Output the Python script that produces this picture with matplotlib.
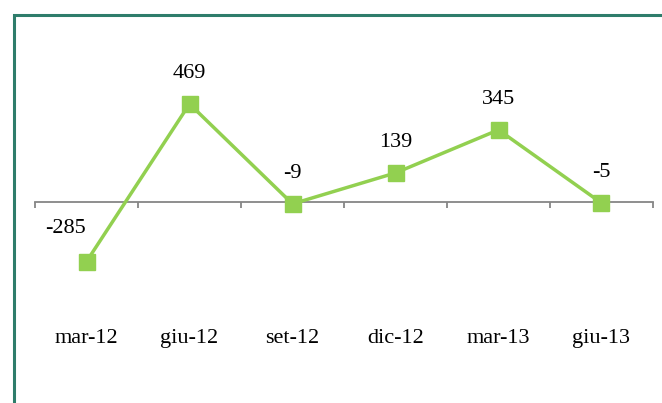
import numpy as np
import matplotlib.pyplot as plt
from matplotlib.patches import Rectangle
import matplotlib.transforms as mtransforms

plt.rcParams['font.family'] = ['Liberation Serif', 'DejaVu Serif']

# data
periods = ['mar-12', 'giu-12', 'set-12', 'dic-12', 'mar-13', 'giu-13']
values = [-285, 469, -9, 139, 345, -5]

green = '#92D050'
x = np.arange(len(periods))

fig = plt.figure(figsize=(6.62, 4.03), dpi=100)
ax = fig.add_axes([0.0529, 0.2395, 0.9335, 0.5705])

ax.plot(x, values, color=green, lw=2.5, marker='s', markersize=11,
        markerfacecolor=green, markeredgecolor=green, zorder=3, clip_on=False)

ax.set_xlim(-0.5, len(periods) - 0.5)
ax.set_ylim(-500, 600)

# axis line at zero with tick marks between categories
for s in ['top', 'right', 'left']:
    ax.spines[s].set_visible(False)
ax.spines['bottom'].set_position(('data', 0))
ax.spines['bottom'].set_color('#868686')
ax.spines['bottom'].set_linewidth(1.3)
ax.set_yticks([])
ax.set_xticks([])
ax.set_xticks(np.arange(len(periods) + 1) - 0.5, minor=True)
ax.tick_params(axis='x', which='minor', direction='out', length=4,
               width=1.3, color='#868686', labelbottom=False)

# value labels
offsets = [(-15, 24), (0, 22), (0, 22), (0, 22), (0, 22), (0, 22)]
for xi, v, off in zip(x, values, offsets):
    ax.annotate(str(v), (xi, v), xytext=off, textcoords='offset points',
                ha='center', va='center', fontsize=16)

# category labels at the bottom
trans = mtransforms.blended_transform_factory(ax.transData, ax.transAxes)
for xi, lab in zip(x, periods):
    ax.text(xi, -0.14, lab, transform=trans, ha='center', va='center',
            fontsize=16)

# outer border
fig.patches.append(Rectangle((14 / 662, -0.1), 1.0, (403 - 15) / 403 + 0.1,
                             transform=fig.transFigure, fill=False,
                             edgecolor='#2E7D6B', lw=2.2))

fig.savefig('out.png', dpi=100)
